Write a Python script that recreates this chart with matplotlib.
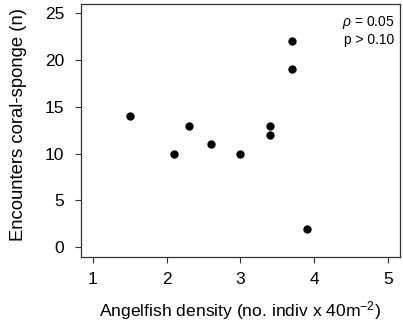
import matplotlib
matplotlib.use("Agg")
import matplotlib.pyplot as plt

plt.rcParams['font.family'] = ['Liberation Sans', 'DejaVu Sans']
plt.rcParams['mathtext.fontset'] = 'custom'
plt.rcParams['mathtext.rm'] = 'Liberation Sans'
plt.rcParams['mathtext.it'] = 'Liberation Sans:italic'

density = [1.5, 2.1, 2.3, 2.6, 3.0, 3.4, 3.4, 3.7, 3.7, 3.9]
encounters = [14, 10, 13, 11, 10, 13, 12, 22, 19, 2]
xticks = [1, 2, 3, 4, 5]
yticks = [0, 5, 10, 15, 20, 25]

fig = plt.figure(figsize=(4.03, 3.23), dpi=100)
ax = fig.add_axes([81/403, 1 - 257/323, (399.5 - 81)/403, (257 - 4)/323])
ax.scatter(density, encounters, s=36, color='black', zorder=3, linewidths=0)
ax.set_xlim(0.84, 5.16)
ax.set_ylim(-1.04, 26.0)
ax.set_xticks(xticks)
ax.set_yticks(yticks)
ax.tick_params(direction='out', length=4, width=0.8, labelsize=12.5, color='#333333')
ax.tick_params(axis='y', pad=8)
ax.tick_params(axis='x', pad=6.5)
for s in ax.spines.values():
    s.set_linewidth(0.9)
    s.set_color('#333333')
ax.set_xlabel('Angelfish density (no. indiv x 40m$^{\\mathregular{-2}}$)', fontsize=12.6, labelpad=9)
ax.set_ylabel('Encounters coral-sponge (n)', fontsize=13.3, labelpad=13, y=0.525)
ax.text(0.985, 0.96, '$\\rho$ = 0.05\np > 0.10', transform=ax.transAxes,
        ha='right', va='top', fontsize=10, linespacing=1.15)
fig.savefig('out.png', dpi=100)
